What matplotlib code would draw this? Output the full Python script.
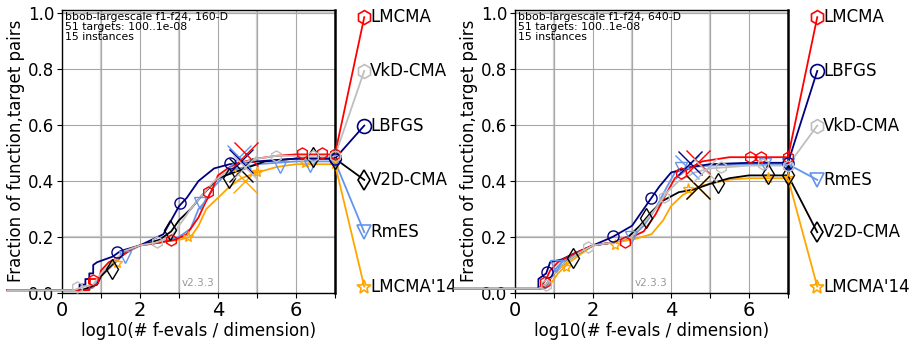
import numpy as np
import matplotlib.pyplot as plt

algos = ["LMCMA", "VkD-CMA", "LBFGS", "V2D-CMA", "RmES", "LMCMA'14"]
colors = {"LMCMA": "#ff0000", "VkD-CMA": "#bebebe", "LBFGS": "#000080",
          "V2D-CMA": "#000000", "RmES": "#6495ed", "LMCMA'14": "#ffa500"}
markers = {"LMCMA": "h", "VkD-CMA": "h", "LBFGS": "o",
           "V2D-CMA": "d", "RmES": "v", "LMCMA'14": "*"}

# ---- 160-D: ECDF curves (log10 evals/dim, fraction) ----
lmcma_160 = [(-1.4, 0.01), (0.7, 0.01), (0.72, 0.05), (0.95, 0.05), (1.0, 0.08), (1.2, 0.11),
             (1.5, 0.13), (1.8, 0.16), (2.0, 0.17), (2.5, 0.18), (2.9, 0.19), (3.2, 0.21),
             (3.5, 0.27), (3.7, 0.33), (3.85, 0.37), (4.0, 0.42), (4.3, 0.45), (4.7, 0.47),
             (5.0, 0.48), (5.5, 0.49), (6.0, 0.495), (7.0, 0.495)]
vkd_160 = [(-1.4, 0.01), (0.3, 0.01), (0.5, 0.02), (0.8, 0.03), (1.0, 0.07), (1.3, 0.11),
           (1.6, 0.15), (2.0, 0.17), (2.4, 0.18), (2.8, 0.2), (3.0, 0.24), (3.3, 0.3),
           (3.6, 0.35), (3.9, 0.4), (4.2, 0.43), (4.5, 0.46), (5.0, 0.48), (5.5, 0.49),
           (6.5, 0.49), (7.0, 0.49)]
lbfgs_160 = [(-1.4, 0.01), (0.45, 0.01), (0.45, 0.03), (0.6, 0.03), (0.6, 0.05), (0.7, 0.05),
             (0.7, 0.07), (0.8, 0.07), (0.8, 0.1), (0.9, 0.11), (1.1, 0.12), (1.3, 0.13),
             (1.5, 0.15), (2.0, 0.17), (2.3, 0.19), (2.6, 0.21), (2.8, 0.26), (3.0, 0.31),
             (3.2, 0.34), (3.5, 0.4), (3.9, 0.445), (4.3, 0.46), (5.0, 0.47), (6.0, 0.48),
             (7.0, 0.48)]
v2d_160 = [(-1.4, 0.01), (0.5, 0.01), (0.7, 0.02), (0.9, 0.03), (1.0, 0.06), (1.2, 0.09),
           (1.5, 0.13), (1.8, 0.16), (2.0, 0.17), (2.5, 0.19), (2.8, 0.22), (3.0, 0.26),
           (3.3, 0.3), (3.6, 0.35), (4.0, 0.41), (4.4, 0.43), (4.8, 0.45), (5.2, 0.47),
           (6.0, 0.48), (7.0, 0.48)]
rmes_160 = [(-1.4, 0.01), (0.6, 0.01), (0.8, 0.02), (1.0, 0.06), (1.3, 0.1), (1.6, 0.14),
            (2.0, 0.17), (2.5, 0.18), (3.0, 0.2), (3.3, 0.23), (3.5, 0.3), (3.7, 0.33),
            (3.9, 0.38), (4.1, 0.41), (4.4, 0.44), (5.0, 0.46), (6.0, 0.47), (7.0, 0.47)]
lm14_160 = [(-1.4, 0.01), (0.6, 0.01), (0.8, 0.02), (1.0, 0.06), (1.3, 0.1), (1.6, 0.14),
            (2.0, 0.17), (2.5, 0.18), (3.0, 0.19), (3.3, 0.2), (3.5, 0.24), (3.7, 0.3),
            (4.0, 0.34), (4.3, 0.38), (4.6, 0.41), (5.0, 0.43), (5.5, 0.45), (6.0, 0.46),
            (7.0, 0.46)]

# markers along the curves
lmcma_160_mk = [(0.8, 0.046), (2.8, 0.19), (3.75, 0.36), (6.15, 0.5), (6.66, 0.5), (7.0, 0.495)]
vkd_160_mk = [(0.38, 0.023), (2.43, 0.183), (5.5, 0.49), (6.44, 0.49), (7.0, 0.49)]
lbfgs_160_mk = [(1.41, 0.146), (3.03, 0.32), (4.3, 0.464), (7.0, 0.48)]
v2d_160_mk = [(1.27, 0.085), (2.77, 0.225), (4.29, 0.41), (6.44, 0.487), (7.0, 0.48)]
rmes_160_mk = [(1.62, 0.13), (3.54, 0.32), (5.59, 0.45), (6.36, 0.455), (7.0, 0.47)]
lm14_160_mk = [(1.4, 0.106), (3.24, 0.2), (4.99, 0.433), (6.23, 0.463), (7.0, 0.46)]

# max-evals crosses
cross_160 = {"LMCMA": (4.72, 0.495), "VkD-CMA": (4.7, 0.45), "LBFGS": (4.6, 0.47),
             "V2D-CMA": (4.6, 0.44), "RmES": (4.55, 0.487), "LMCMA'14": (4.68, 0.40)}

# ---- 640-D ----
lmcma_640 = [(-1.55, 0.015), (0.6, 0.015), (0.7, 0.03), (0.8, 0.05), (0.9, 0.08), (1.1, 0.11),
             (1.5, 0.14), (2.0, 0.17), (2.5, 0.18), (3.0, 0.2), (3.3, 0.22), (3.6, 0.28),
             (3.9, 0.36), (4.1, 0.41), (4.4, 0.44), (4.8, 0.47), (5.5, 0.485), (7.0, 0.485)]
vkd_640 = [(-1.55, 0.015), (0.6, 0.015), (0.8, 0.03), (1.0, 0.07), (1.3, 0.11), (1.6, 0.14),
           (2.0, 0.17), (2.5, 0.18), (3.0, 0.2), (3.3, 0.25), (3.6, 0.3), (3.9, 0.36),
           (4.2, 0.4), (4.6, 0.43), (5.0, 0.445), (5.5, 0.45), (6.0, 0.455), (7.0, 0.455)]
lbfgs_640 = [(-1.55, 0.015), (0.6, 0.015), (0.6, 0.05), (0.8, 0.07), (0.9, 0.11), (1.2, 0.12),
             (1.5, 0.14), (2.0, 0.17), (2.5, 0.2), (3.0, 0.24), (3.3, 0.3), (3.5, 0.34),
             (3.7, 0.38), (4.0, 0.43), (4.5, 0.45), (5.0, 0.46), (6.0, 0.465), (7.0, 0.465)]
v2d_640 = [(-1.55, 0.015), (0.6, 0.015), (0.8, 0.03), (1.0, 0.07), (1.3, 0.11), (1.6, 0.14),
           (2.0, 0.17), (2.5, 0.18), (2.9, 0.2), (3.2, 0.24), (3.5, 0.29), (3.8, 0.33),
           (4.2, 0.36), (4.6, 0.37), (5.0, 0.39), (5.5, 0.41), (6.0, 0.42), (7.0, 0.42)]
rmes_640 = [(-1.55, 0.015), (0.7, 0.015), (0.8, 0.02), (1.0, 0.08), (1.2, 0.11), (1.6, 0.14),
            (2.0, 0.17), (2.5, 0.18), (3.0, 0.2), (3.3, 0.24), (3.6, 0.3), (3.9, 0.38),
            (4.1, 0.43), (4.5, 0.45), (5.0, 0.455), (6.0, 0.46), (7.0, 0.46)]
lm14_640 = [(-1.55, 0.015), (0.7, 0.015), (0.9, 0.03), (1.1, 0.07), (1.4, 0.11), (1.8, 0.15),
            (2.0, 0.17), (2.5, 0.18), (3.0, 0.19), (3.5, 0.21), (3.8, 0.26), (4.0, 0.31),
            (4.3, 0.35), (4.7, 0.38), (5.0, 0.39), (5.5, 0.405), (6.0, 0.41), (7.0, 0.41)]

lmcma_640_mk = [(0.76, 0.04), (2.81, 0.183), (4.26, 0.427), (6.02, 0.487), (6.32, 0.487), (7.0, 0.485)]
vkd_640_mk = [(0.8, 0.029), (1.87, 0.165), (3.82, 0.344), (5.29, 0.449), (6.36, 0.46), (7.0, 0.455)]
lbfgs_640_mk = [(0.83, 0.076), (2.51, 0.204), (3.48, 0.34), (7.0, 0.465)]
v2d_640_mk = [(1.49, 0.124), (3.37, 0.267), (5.2, 0.392), (6.49, 0.425), (7.0, 0.42)]
rmes_640_mk = [(1.06, 0.098), (2.98, 0.2), (4.25, 0.445), (6.4, 0.46), (7.0, 0.46)]
lm14_640_mk = [(1.32, 0.094), (2.56, 0.171), (4.43, 0.37), (6.49, 0.41), (7.0, 0.41)]

cross_640 = {"LMCMA": (4.69, 0.469), "VkD-CMA": (4.87, 0.44), "LBFGS": (4.5, 0.464),
             "V2D-CMA": (4.69, 0.38), "RmES": (4.4, 0.45), "LMCMA'14": (4.69, 0.38)}

# right-hand labels: y slots from top to bottom and the order per panel
label_y = [0.985, 0.793, 0.598, 0.404, 0.217, 0.023]
order_160 = ["LMCMA", "VkD-CMA", "LBFGS", "V2D-CMA", "RmES", "LMCMA'14"]
order_640 = ["LMCMA", "LBFGS", "VkD-CMA", "RmES", "V2D-CMA", "LMCMA'14"]

panels = [
    dict(dim=160, order=order_160, cross=cross_160,
         curves={"LMCMA": (lmcma_160, lmcma_160_mk), "VkD-CMA": (vkd_160, vkd_160_mk),
                 "LBFGS": (lbfgs_160, lbfgs_160_mk), "V2D-CMA": (v2d_160, v2d_160_mk),
                 "RmES": (rmes_160, rmes_160_mk), "LMCMA'14": (lm14_160, lm14_160_mk)}),
    dict(dim=640, order=order_640, cross=cross_640,
         curves={"LMCMA": (lmcma_640, lmcma_640_mk), "VkD-CMA": (vkd_640, vkd_640_mk),
                 "LBFGS": (lbfgs_640, lbfgs_640_mk), "V2D-CMA": (v2d_640, v2d_640_mk),
                 "RmES": (rmes_640, rmes_640_mk), "LMCMA'14": (lm14_640, lm14_640_mk)}),
]

draw_order = ["LMCMA'14", "RmES", "V2D-CMA", "LBFGS", "LMCMA", "VkD-CMA"]

fig = plt.figure(figsize=(9.12, 3.45), dpi=100)
lefts = [62 / 912, 515 / 912]

for left, p in zip(lefts, panels):
    ax = fig.add_axes([left, 52 / 345, 273 / 912, 283.5 / 345])
    ax.set_xlim(0, 7)
    ax.set_ylim(0, 1.0125)

    # grid: darker lines plus a few lighter, thicker ones
    ax.grid(True, color="#a8a8a8", linewidth=0.8, zorder=0)
    for gx in [1, 3, 5]:
        ax.axvline(gx, color="#d0d0d0", linewidth=1.6, zorder=0.5)
    for gy in [0.2, 1.0]:
        ax.axhline(gy, color="#d0d0d0", linewidth=1.6, zorder=0.5)

    for name in draw_order:
        pts, mk = p["curves"][name]
        c = colors[name]
        xs = [q[0] for q in pts]
        ys = [q[1] for q in pts]
        ax.plot(xs, ys, color=c, linewidth=1.3, clip_on=False, zorder=3)
        ax.plot([q[0] for q in mk], [q[1] for q in mk], linestyle="none",
                marker=markers[name], ms=8 if markers[name] != "d" else 10,
                mfc="none", mec=c, mew=1.0, clip_on=False, zorder=4)
        cx, cy = p["cross"][name]
        ax.plot(cx, cy, marker="x", ms=17, mec=c, mew=1.0, linestyle="none", zorder=4)

        # connector to the label on the right
        slot = label_y[p["order"].index(name)]
        ax.plot([xs[-1], 7.75], [ys[-1], slot], color=c, linewidth=1.3,
                clip_on=False, zorder=3)
        ax.plot(7.75, slot, marker=markers[name], ms=10, mfc="none", mec=c,
                mew=1.2, clip_on=False, zorder=5)
        ax.text(7.9, slot, name, fontsize=12, ha="left", va="center", clip_on=False)

    for s in ax.spines.values():
        s.set_linewidth(1.0)
    ax.spines["right"].set_linewidth(1.8)

    ax.set_xticks(range(8))
    ax.set_xticklabels(["0", "", "2", "", "4", "", "6", ""], fontsize=14)
    ax.set_yticks([0, 0.2, 0.4, 0.6, 0.8, 1.0])
    ax.set_yticklabels(["0.0", "0.2", "0.4", "0.6", "0.8", "1.0"], fontsize=12)
    ax.tick_params(pad=2)
    ax.set_xlabel("log10(# f-evals / dimension)", fontsize=12, labelpad=2)
    ax.set_ylabel("Fraction of function,target pairs", fontsize=12, labelpad=2)

    ax.text(0.01, 0.99, "bbob-largescale f1-f24, %d-D\n51 targets: 100..1e-08\n15 instances" % p["dim"],
            transform=ax.transAxes, fontsize=7.8, ha="left", va="top", linespacing=1.0)
    ax.text(3.5, 0.035, "v2.3.3", fontsize=7.5, color="#999999", ha="center", va="center")

fig.savefig("out.png", dpi=100)
